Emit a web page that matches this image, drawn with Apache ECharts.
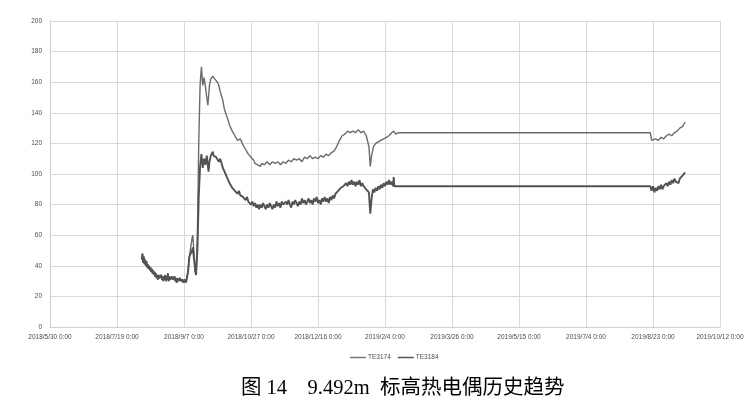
<!DOCTYPE html>
<html><head><meta charset="utf-8">
<script src="https://cdn.jsdelivr.net/npm/echarts@6/dist/echarts.min.js"></script>
<style>html,body{margin:0;padding:0;background:#fff}#c{width:749px;height:408px}</style>
</head><body><div id="c"></div>
<script>
// x values: days since 2018/5/30 0:00
const startDate = [2018, 5, 30];
const xTickStep = 50;
const yTicks = [0, 20, 40, 60, 80, 100, 120, 140, 160, 180, 200];
const seriesNames = ['TE3174', 'TE3184'];
const title = '图 14\u30009.492m  标高热电偶历史趋势';

const earlyDays = [68.5,69,69.5,70,70.5,71,71.5,72,72.5,73,73.5,74,74.5,75,75.5,76,76.5,77,77.5,78,78.5,79,79.5,80,80.5,81,81.5,82,82.5,83,83.5,84,84.5,85,85.5,86,86.5,87,87.5,88,88.5,89,89.5,90,90.5,91,91.5,92,92.5,93,93.5,94,94.5,95,95.5,96,96.5,97,97.5,98,98.5,99,99.5,100,100.5,101,101.5,102,103,104];
const earlyVals = [44,48,42,46,41,44,40,43,39,41,38,40,37,39,36,38,35,37,34,36,33,35,32,34,31,34,32,33,31,34,31,33,30,33,31,34,30,33,31,35,30,33,31,32,30,33,31,32,30,33,30,32,29,32,30,31,29,32,30,31,29,31,29,30,28,31,29,30,36,46];

const te3174Days = [105,106,106.6,107.5,108.5,109,110,111,112,113,114,115,116,117,117.8,119,120,121.5,123,124,125,126,127,128,129,130,131,132,133,134,135,136,137,138,139,140,141,142,143,144,145,146,147,148,149,150,151,152,153,154,155,156,157,158,160,162,164,166,168,170,172,174,176,178,180,182,184,186,188,190,192,194,196,198,200,202,204,206,208,210,212,214,216,218,220,222,224,226,228,230,232,234,236,237,238,239,240,241.5,243,245,247,249,251,253,255,256.5,258,260,263,448,449,450,452,454,456,458,460,462,464,466,468,470,472,474];
const te3174Vals = [52,58,60,48,36,34,60,120,158,170,158,163,157,150,145,158,162,164,162,163,160,158,154,153,148,143,140,137.5,135,132,130,128,126.6,125,124,122,121,123,121,119,118,116,115,113,113,111,110,109,107,108,106,107,105,107,106,108,106,108,107,108,106,108,107,109,108,110,109,110,108,111,110,112,110,111,110,112,111,113,112,114,115,118,122,125,126,128,127,128,127,129,127,128,125,124,118,105,112,118,120,121,122,123,124,125,127,128,126,127,127,127,122,121,123,122,124,123,125,126,125,127,128,130,131,134];

const te3184Days = [105,106,106.6,107.5,108.5,109,110,111,112,113,114,115,116,117,118.3,119,120,121.5,122,123,124,125,126,127,128,129,130,131,132,133,134,135,136,137,138,139,140,141,142,143,144,145,146,147,148,149,150,151,152,153,154,155,156,157,158,159,160,161,162,163,164,165,166,167,168,169,170,171,172,173,174,175,176,177,178,179,180,181,182,183,184,185,186,187,188,189,190,191,192,193,194,195,196,197,198,199,200,201,202,203,204,205,206,207,208,209,210,211,212,213,214,215,216,217,218,219,220,221,222,223,224,225,226,227,228,229,230,231,232,233,234,235,236,237,238,239,240,241,242,243,244,245,246,247,248,249,250,251,252,253,254,255,256,256.5,257,448,449,450,451,452,453,454,455,456,457,458,459,460,461,462,463,464,465,466,467,468,469,470,471,472,473,474];
const te3184Vals = [48,50,52,44,36,34,50,85,105,113,104,110,106,112,101.5,108,112,114.6,112,113,111,112,108,110,107,104,102,100,98,96,94,95,91,92,89,90,87,89,86,87,85,86,83,85,82,83,80,82,79,81,78,80,77,80,78,81,79,77,80,78,81,79,77,80,78,82,79,81,78,82,80,79,82,80,83,80,78,82,80,83,81,79,82,80,84,81,83,80,82,84,81,83,80,84,82,85,81,83,80,84,82,85,82,84,81,85,83,86,84,87,86,89,88,91,90,92,91,94,92,95,93,96,93,95,92,95,93,96,92,94,92,93,90,91,88,74,84,90,88,91,89,92,90,93,91,94,92,95,93,96,93,95,92,98,92,92,89,92,88,91,89,92,90,93,90,92,91,94,92,95,93,96,94,97,95,96,94,97,96,99,98,101];

function pairs(d, v) { return d.map((x, i) => [x, v[i]]); }
const s1 = pairs(earlyDays, earlyVals).concat(pairs(te3174Days, te3174Vals));
const s2 = pairs(earlyDays, earlyVals).concat(pairs(te3184Days, te3184Vals));

const t0 = Date.UTC(startDate[0], startDate[1] - 1, startDate[2]);
function fmtDay(v) {
  const d = new Date(t0 + v * 86400000);
  return d.getUTCFullYear() + '/' + (d.getUTCMonth() + 1) + '/' + d.getUTCDate() + ' 0:00';
}

const chart = echarts.init(document.getElementById('c'), null, {renderer: 'canvas'});
const lblFont = {fontSize: 6.5, color: '#4d4d4d', fontFamily: 'Liberation Sans, Arial'};
chart.setOption({
  animation: false,
  backgroundColor: '#fff',
  grid: {left: 50, right: 29, top: 21, bottom: 81, containLabel: false},
  xAxis: {
    type: 'value', min: 0, max: 500, interval: xTickStep,
    axisLine: {show: true, lineStyle: {color: '#d0d0d0', width: 1}},
    axisTick: {show: false},
    splitLine: {show: true, lineStyle: {color: '#d9d9d9', width: 1}},
    axisLabel: Object.assign({formatter: fmtDay, margin: 7, showMaxLabel: true}, lblFont)
  },
  yAxis: {
    type: 'value', min: yTicks[0], max: yTicks[yTicks.length - 1], interval: yTicks[1] - yTicks[0],
    axisLine: {show: true, lineStyle: {color: '#d0d0d0', width: 1}},
    axisTick: {show: false},
    splitLine: {show: true, lineStyle: {color: '#d9d9d9', width: 1}},
    axisLabel: Object.assign({margin: 8}, lblFont)
  },
  legend: {
    top: 349, left: 345, itemWidth: 16, itemHeight: 1.5, itemGap: 7,
    textStyle: {fontSize: 6.5, color: '#4d4d4d', fontFamily: 'Liberation Sans, Arial', padding: [0, 0, 0, -3]},
    data: seriesNames.map(n => ({name: n, icon: 'rect'}))
  },
  title: {
    text: title, left: 236, top: 373,
    textStyle: {fontSize: 20.5, fontWeight: 'normal', color: '#000', fontFamily: 'Liberation Serif, Noto Sans CJK SC'}
  },
  series: [
    {name: seriesNames[0], type: 'line', data: s1, symbol: 'none', lineStyle: {color: '#6b6b6b', width: 1.4}, itemStyle: {color: '#777777'}},
    {name: seriesNames[1], type: 'line', data: s2, symbol: 'none', lineStyle: {color: '#525252', width: 1.9}, itemStyle: {color: '#555555'}}
  ]
});
</script></body></html>
